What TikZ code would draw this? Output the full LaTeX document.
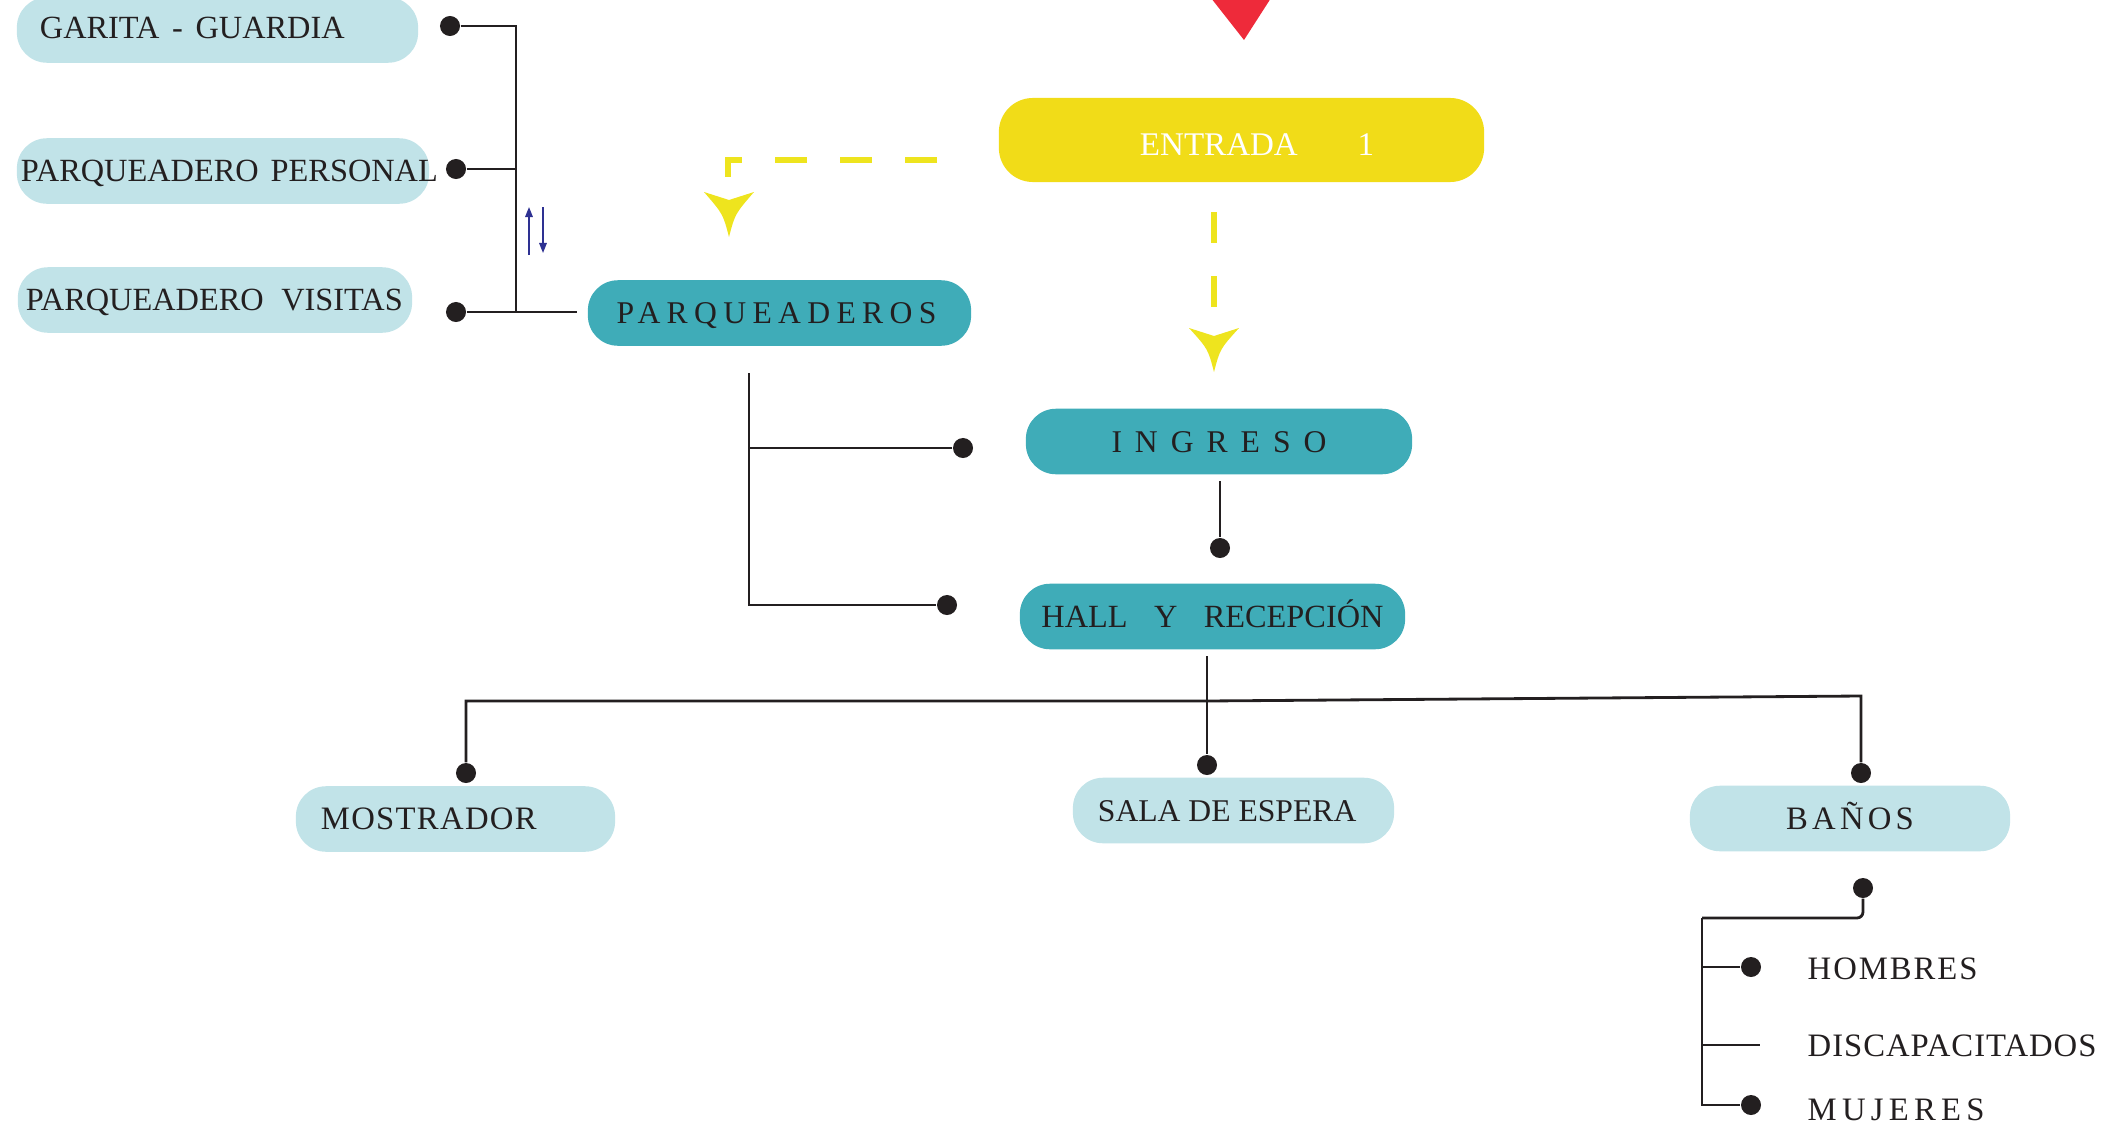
\documentclass[tikz,border=0pt]{standalone}
\usepackage{fontspec}
\setmainfont{Liberation Serif}
\usetikzlibrary{arrows.meta}
\definecolor{lightbox}{HTML}{C1E3E8}
\definecolor{tealbox}{HTML}{3FACB8}
\definecolor{yelbox}{HTML}{F1DC18}
\definecolor{dashyel}{HTML}{EEE41E}
\definecolor{redtri}{HTML}{EE2A3A}
\definecolor{ink}{HTML}{231F20}
\definecolor{arrblue}{HTML}{2E3192}
\newcommand{\lsp}[2]{{\addfontfeatures{LetterSpace=#1}#2}}
\newcommand{\fsz}[1]{\fontsize{#1}{#1}\selectfont}
\begin{document}
\begin{tikzpicture}[x=0.01cm,y=-0.01cm,
  box/.style={inner xsep=0pt, inner ysep=0pt, text height=6.1pt, text depth=0pt, text=ink, font=\fsz{9.2}},
  lbox/.style={box, fill=lightbox, rounded corners=0.3cm, minimum height=0.655cm},
  tbox/.style={box, fill=tealbox, rounded corners=0.3cm, minimum height=0.655cm},
  ybox/.style={box, fill=yelbox, rounded corners=0.34cm, minimum height=0.84cm, text=white},
  plain/.style={inner sep=0pt, text height=6.1pt, text depth=0pt, text=ink, font=\fsz{9.3}, anchor=west},
  dotn/.style={circle, fill=ink, inner sep=0pt, minimum size=0.2cm},
  conn/.style={draw=ink, line width=0.8pt},
  ydash/.style={draw=dashyel, line width=1.7pt},
  barrow/.style={draw=arrblue, line width=0.45pt, -{Triangle[length=0.1cm,width=0.075cm]}},
]
\useasboundingbox (0,0) rectangle (2114,1124);

% red triangle
\fill[redtri] (1211,-2) -- (1271,-2) -- (1244,40) -- cycle;

% boxes
\node[lbox] (garita) at (217.5,30) {\makebox[4.01cm][l]{\hspace{0.23cm}\raisebox{0.02cm}{GARITA\hspace{3.6pt}-\hspace{3.6pt}GUARDIA}}};
\node[lbox] (ppers) at (223,171) {\makebox[4.12cm][l]{\hspace{0.04cm}PARQUEADERO\hspace{3.4pt}PERSONAL}};
\node[lbox] (pvis) at (215,300) {\makebox[3.94cm][l]{\hspace{0.08cm}PARQUEADERO\hspace{5pt}VISITAS}};
\node[tbox, minimum width=3.83cm] (parq) at (779.5,313) {\hspace{-0.06cm}\fsz{9}\lsp{20}{PARQUEADEROS}};
\node[ybox] (entrada) at (1241.5,140) {\makebox[4.85cm][l]{\hspace{1.41cm}\raisebox{-0.045cm}{\fsz{9.4}ENTRADA\hspace{17pt}1}}};
\node[tbox, minimum width=3.86cm] (ingreso) at (1219,441.5) {\fsz{9}\lsp{41}{INGRESO}};
\node[tbox, minimum width=3.85cm] (hall) at (1212.5,616.5) {HALL\hspace{7.5pt}Y\hspace{7.5pt}RECEPCIÓN};
\node[lbox] (mostrador) at (455.5,819) {\makebox[3.19cm][l]{\hspace{0.25cm}\fsz{9.3}\lsp{4}{MOSTRADOR}}};
\node[lbox] (sala) at (1233.5,810.5) {\makebox[3.21cm][l]{\hspace{0.25cm}\fsz{9}SALA DE ESPERA}};
\node[lbox, minimum width=3.2cm] (banos) at (1850,818.5) {\fsz{9.3}\lsp{13}{BAÑOS}};

% sub labels of BAÑOS
\node[plain] (hombres) at (1807,969) {\lsp{6}{HOMBRES}};
\node[plain] (discap) at (1807,1046) {\lsp{3}{DISCAPACITADOS}};
\node[plain] (mujeres) at (1807,1110) {\lsp{16}{MUJERES}};

% dots
\node[dotn] (dg) at (450,26) {};
\node[dotn] (dpp) at (456,169) {};
\node[dotn] (dpv) at (456,312) {};
\node[dotn] (dpi) at (963,448) {};
\node[dotn] (dph) at (947,605) {};
\node[dotn] (di) at (1220,548) {};
\node[dotn] (dm) at (466,773) {};
\node[dotn] (ds) at (1207,765) {};
\node[dotn] (db) at (1861,773) {};
\node[dotn] (dbs) at (1863,888) {};
\node[dotn] (dho) at (1751,967) {};
\node[dotn] (dmu) at (1751,1105) {};

% coordinates
\coordinate (busP) at (516,312);
\coordinate (pvend) at (577,312);
\coordinate (pb) at (749,373);
\coordinate (istem) at (1220,481);
\coordinate (hstem) at (1207,656);
\coordinate (bl) at (466,701);
\coordinate (bm) at (1207,701);
\coordinate (br) at (1861,696);
\coordinate (bj) at (1702,918);
\coordinate (dj1) at (1702,1045);
\coordinate (dj2) at (1760,1045);

% parking bus
\draw[conn] (dg) -| (busP);
\draw[conn] (dpp) -- (dpp -| busP);
\draw[conn] (dpv) -- (pvend);
\draw[barrow] (529,255) -- (529,207);
\draw[barrow] (543,207) -- (543,253);

% PARQUEADEROS bracket
\draw[conn] (pb) |- (dph);
\draw[conn] (dpi) -- (dpi -| pb);

% INGRESO -> HALL
\draw[conn] (istem) -- (di);
\draw[conn] (hstem) -- (ds);
\draw[conn] (dm) -- (bl) -- (bm) -- (br) -- (db);

% BAÑOS subtree
\draw[conn, rounded corners=0.06cm] (dbs) |- (bj);
\draw[conn] (bj) |- (dmu);
\draw[conn] (dho -| bj) -- (dho);
\draw[conn] (dj1) -- (dj2);

% yellow dashed connectors
\coordinate (y1) at (937,160);
\coordinate (y2) at (728,160);
\coordinate (y3) at (728,177);
\draw[ydash, dash pattern=on 0.32cm off 0.33cm] (y1) -- (y2) -- (y3);
\coordinate (v1) at (1214,212);
\coordinate (v2) at (1214,307);
\draw[ydash, dash pattern=on 0.31cm off 0.33cm] (v1) -- (v2);
\fill[dashyel] (729,237) .. controls (723,214) .. (704,192) -- (729,200) -- (754,192) .. controls (735,214) .. (729,237) -- cycle;
\fill[dashyel] (1214,372) .. controls (1208,349) .. (1189,328) -- (1214,336) -- (1239,328) .. controls (1220,349) .. (1214,372) -- cycle;
\end{tikzpicture}
\end{document}
